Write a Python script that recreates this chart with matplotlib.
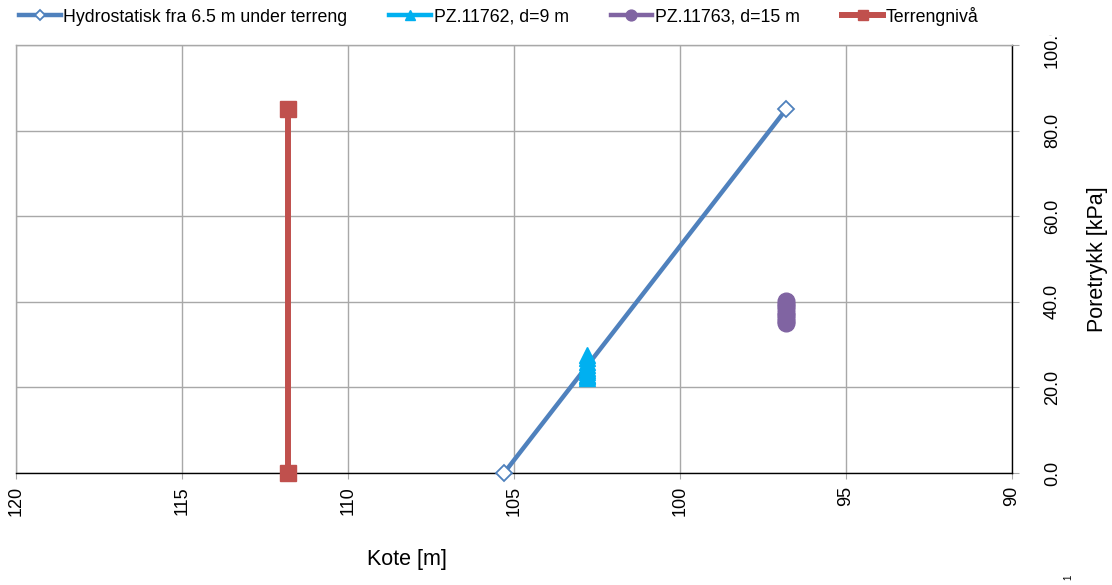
import matplotlib
matplotlib.use("Agg")
import matplotlib.pyplot as plt
from matplotlib.transforms import Bbox, TransformedBbox

plt.rcParams['font.family'] = ['Liberation Sans', 'DejaVu Sans']

# Hydrostatic pore pressure from 6.5 m below terrain
hydro_kote = [105.3, 96.8]
hydro_p = [0.0, 85.0]

# Piezometer PZ.11762, d=9 m
pz62_kote = [102.8] * 10
pz62_p = [22.3, 22.6, 23.0, 23.5, 24.0, 24.6, 25.3, 26.0, 26.8, 27.5]

# Piezometer PZ.11763, d=15 m
pz63_kote = [96.8] * 9
pz63_p = [35.0, 35.5, 36.2, 36.8, 37.5, 38.3, 39.0, 39.6, 40.1]

# Terrain level
terr_kote = [111.8, 111.8]
terr_p = [0.0, 85.0]

x_ticks = [120, 115, 110, 105, 100, 95, 90]
y_ticks = [0, 20, 40, 60, 80, 100]

labels = ["Hydrostatisk fra 6.5 m under terreng", "PZ.11762, d=9 m",
          "PZ.11763, d=15 m", "Terrengnivå"]

c_hydro = "#4F81BD"
c_pz62 = "#00B0F0"
c_pz63 = "#8064A2"
c_terr = "#C0504D"
c_grid = "#A8A8A8"

W, H = 1112, 585
fig = plt.figure(figsize=(W / 100, H / 100), dpi=100)
ax = fig.add_axes([16 / W, 1 - 473 / H, (1012 - 16) / W, (473 - 45) / H])

ax.plot(terr_kote, terr_p, color=c_terr, lw=4.3, marker="s", ms=11,
        mfc=c_terr, mec=c_terr, label=labels[3], zorder=3, clip_on=False)
ax.plot(hydro_kote, hydro_p, color=c_hydro, lw=3.2, marker="D", ms=8.5,
        mfc="white", mec=c_hydro, mew=1.3, label=labels[0], zorder=4,
        clip_on=False)
ax.plot(pz62_kote, pz62_p, color=c_pz62, lw=3.2, marker="^", ms=12,
        mfc=c_pz62, mec=c_pz62, linestyle="-", label=labels[1], zorder=5)
ax.plot(pz63_kote, pz63_p, color=c_pz63, lw=3.2, marker="o", ms=12,
        mfc=c_pz63, mec=c_pz63, linestyle="-", label=labels[2], zorder=5)

ax.set_xlim(120, 90)
ax.set_ylim(0, 100)
ax.set_xticks(x_ticks)
ax.set_xticklabels([str(v) for v in x_ticks], rotation=90, fontsize=13)
ax.set_yticks(y_ticks)
ax.set_yticklabels([f"{v:.1f}" for v in y_ticks], rotation=90, fontsize=13,
                   va="center")
ax.yaxis.tick_right()
ax.tick_params(axis="y", direction="out", length=5, pad=18, color=c_grid)
ax.tick_params(axis="x", direction="out", length=4, pad=5.5, color=c_grid)

ax.grid(True, color=c_grid, lw=1.0)
ax.set_axisbelow(True)
for side in ("left", "top"):
    ax.spines[side].set_color(c_grid)
    ax.spines[side].set_linewidth(1.0)
for side in ("right", "bottom"):
    ax.spines[side].set_color("black")
    ax.spines[side].set_linewidth(1.0)

# top tick label is cut at the legend band
clip = TransformedBbox(Bbox([[0, 0], [1, 1 - 35 / H]]), fig.transFigure)
for t in ax.get_yticklabels():
    t.set_clip_box(clip)
    t.set_clip_on(True)

fig.text(1098 / W, 1 - 259 / H, "Poretrykk [kPa]", rotation=90,
         ha="center", va="center", fontsize=15.5)
fig.text(407 / W, 1 - 560 / H, "Kote [m]", ha="center", va="center",
         fontsize=15.5)
fig.text(1068 / W, 1 - 577 / H, "1", rotation=90, ha="center", va="center",
         fontsize=7)

h, l = ax.get_legend_handles_labels()
order = [1, 2, 3, 0]
leg = fig.legend([h[i] for i in order], [l[i] for i in order],
                 loc="center left", bbox_to_anchor=(19 / W, 1 - 16 / H),
                 ncol=4, frameon=False, fontsize=12.8, handlelength=2.35,
                 handletextpad=0.15, columnspacing=2.35, markerscale=0.65,
                 borderaxespad=0, borderpad=0)

fig.savefig("out.png", dpi=100)
